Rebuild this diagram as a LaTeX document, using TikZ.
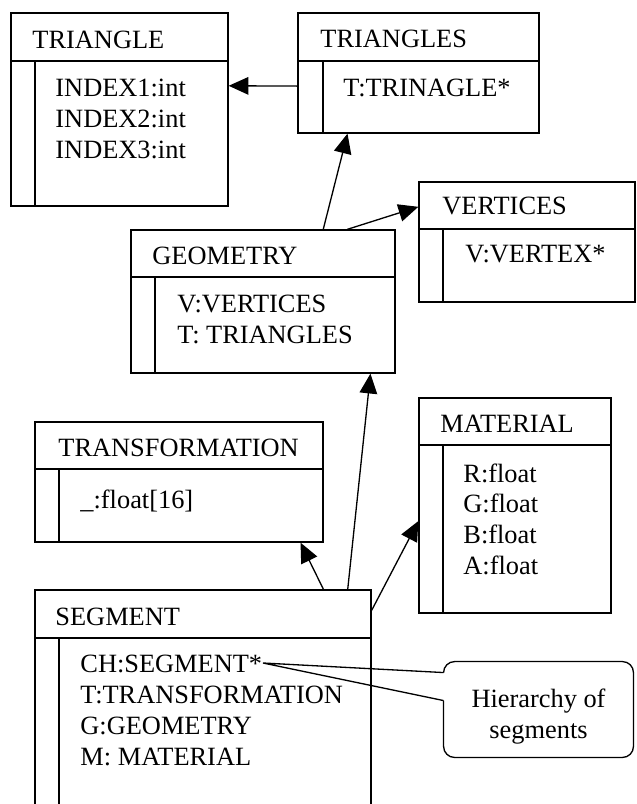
\documentclass[tikz,border=0pt]{standalone}
\usepackage{fontspec}
\setmainfont{Liberation Serif}
\newfontfamily\umlfont{Liberation Serif}
\usetikzlibrary{arrows.meta, positioning, fit, calc}

\begin{document}
\begin{tikzpicture}[
        x=0.455pt, y=-0.455pt,
        every node/.style={font=\umlfont\fontsize{12}{14}\selectfont},
        cls/.style={rectangle, draw, line width=0.6pt, inner sep=0pt},
        title/.style={anchor=base west, inner sep=0pt},
        attr/.style={anchor=north west, align=left, inner sep=0pt},
        rule/.style={line width=0.6pt},
        arrow/.style={-{Triangle[length=9pt, width=8pt]}, line width=0.6pt},
        note/.style={inner sep=0pt, align=center}
    ]
        \useasboundingbox (0,0) rectangle (636,804);

        % TRIANGLE
        \node[cls, fit={(11,13) (228,206)}] (tri) {};
        \node[title] (trit) at (32,49) {TRIANGLE};
        \draw[rule] (11,61) -- (228,61);
        \draw[rule] (35,61) -- (35,206);
        \node[attr] (tria) at (55,79) {INDEX1:int\\INDEX2:int\\INDEX3:int};

        % TRIANGLES
        \node[cls, fit={(298,13) (539,133)}] (trs) {};
        \node[title] (trst) at (320,48) {TRIANGLES};
        \draw[rule] (298,61) -- (539,61);
        \draw[rule] (323,61) -- (323,133);
        \node[attr] (trsa) at (343,79) {T:TRINAGLE*};

        % VERTICES
        \node[cls, fit={(419,182) (635,302)}] (ver) {};
        \node[title] (vert) at (442,215) {VERTICES};
        \draw[rule] (419,229) -- (635,229);
        \draw[rule] (443,229) -- (443,302);
        \node[attr] (vera) at (465,245) {V:VERTEX*};

        % GEOMETRY
        \node[cls, fit={(131,230) (395,373)}] (geo) {};
        \node[title] (geot) at (152,265) {GEOMETRY};
        \draw[rule] (131,277) -- (395,277);
        \draw[rule] (155,277) -- (155,373);
        \node[attr] (geoa) at (177,295) {V:VERTICES\\T: TRIANGLES};

        % TRANSFORMATION
        \node[cls, fit={(35,422) (323,542)}] (trf) {};
        \node[title] (trft) at (58,456) {TRANSFORMATION};
        \draw[rule] (35,469) -- (323,469);
        \draw[rule] (59,469) -- (59,542);
        \node[attr] (trfa) at (80,489) {\_:float[16]};

        % MATERIAL
        \node[cls, fit={(419,398) (611,613)}] (mat) {};
        \node[title] (matt) at (440,433) {MATERIAL};
        \draw[rule] (419,445) -- (611,445);
        \draw[rule] (443,445) -- (443,613);
        \node[attr] (mata) at (463,463) {R:float\\G:float\\B:float\\A:float};

        % SEGMENT (runs off the bottom)
        \node[cls, fit={(35,590) (371,812)}] (seg) {};
        \node[title] (segt) at (55,625) {SEGMENT};
        \draw[rule] (35,638) -- (371,638);
        \draw[rule] (59,638) -- (59,812);
        \node[attr] (sega) at (80,655) {CH:SEGMENT*\\T:TRANSFORMATION\\G:GEOMETRY\\M: MATERIAL};

        % links
        \draw[arrow] ($(trs.north west)!0.608!(trs.south west)$) -- ($(tri.north east)!0.378!(tri.south east)$);
        \draw[arrow] ($(geo.north west)!0.727!(geo.north east)$) -- ($(trs.south west)!0.207!(trs.south east)$);
        \draw[arrow] ($(geo.north west)!0.818!(geo.north east)$) -- ($(ver.north west)!0.21!(ver.south west)$);
        \draw[arrow] ($(seg.north west)!0.857!(seg.north east)$) -- ($(trf.south west)!0.92!(trf.south east)$);
        \draw[arrow] ($(seg.north west)!0.929!(seg.north east)$) -- ($(geo.south west)!0.905!(geo.south east)$);
        \draw[arrow] ($(seg.north east)+(0,21)$) -- ($(mat.north west)!0.572!(mat.south west)$);

        % callout
        \node[inner sep=0pt, fit={(444,662) (633,757)}] (hier) {};
        \node[note] (hiert) at ($(hier.center)+(0,7)$) {Hierarchy of\\segments};
        \coordinate (chend) at (263,663);
        \draw[rule, rounded corners=5pt] ($(hier.north west)+(0,11)$) -- (hier.north west) -- (hier.north east)
            -- (hier.south east) -- (hier.south west) -- ($(hier.north west)+(0,39)$);
        \draw[rule] ($(hier.north west)+(0,11)$) -- (chend) -- ($(hier.north west)+(0,39)$);
    \end{tikzpicture}
\end{document}
